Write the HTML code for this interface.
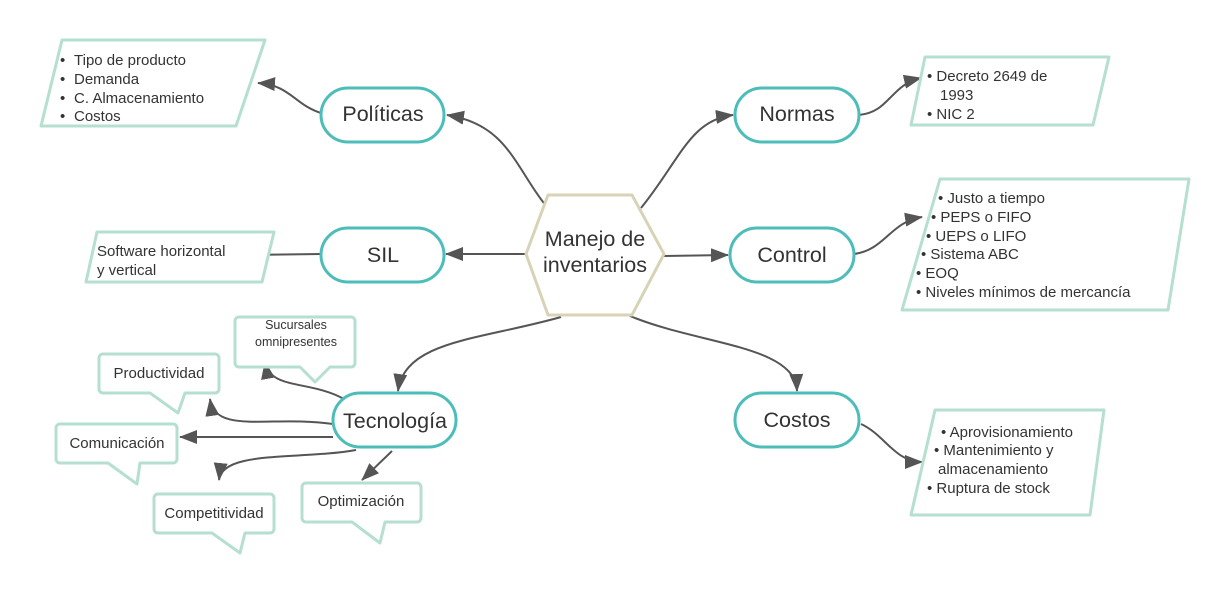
<!DOCTYPE html>
<html><head><meta charset="utf-8"><style>
html,body{margin:0;padding:0;background:#fff;}
svg{display:block;}
text{font-family:"Liberation Sans",sans-serif;fill:#333;}
</style></head><body>
<svg width="1230" height="596" viewBox="0 0 1230 596" xmlns="http://www.w3.org/2000/svg">
<defs>
<marker id="b" markerWidth="18" markerHeight="14" refX="17" refY="7" orient="auto" markerUnits="userSpaceOnUse">
<path d="M0,0 L18,7 L0,14 z" fill="#555"/></marker>
</defs>
<g fill="none" stroke="#555" stroke-width="2" marker-end="url(#b)">
<path d="M551,212 C515,170 510,125 447,115"/>
<path d="M321,113 C295,105 290,85 258,83"/>
<path d="M526,254 L446,254"/>
<path d="M321,254 L247,255"/>
<path d="M641,208 C680,160 690,120 733,115"/>
<path d="M859,115 C890,112 890,85 921,78"/>
<path d="M664,256 L728,255"/>
<path d="M854,254 C885,250 890,222 922,217"/>
<path d="M561,317 C480,340 405,340 398,391"/>
<path d="M630,316 C700,345 795,345 797,391"/>
<path d="M861,424 C885,435 895,462 922,462"/>
<path d="M344,399 C310,380 270,390 265,362"/>
<path d="M333,424 C270,415 215,435 210,399"/>
<path d="M333,437 L180,437"/>
<path d="M356,450 C300,460 222,450 219,480"/>
<path d="M392,451 L362,480"/>
</g>
<polygon points="526,254 548,195 632,195 664,254 632,315 548,315" fill="#fff" stroke="#d8d3b6" stroke-width="3" stroke-linejoin="round"/>
<text x="595" y="246" font-size="21.5" text-anchor="middle">Manejo de</text>
<text x="595" y="272" font-size="21.5" text-anchor="middle">inventarios</text>
<g fill="#fff" stroke="#4dbdb9" stroke-width="3">
<rect x="321" y="88" width="123" height="54" rx="27"/>
<rect x="321" y="228" width="123" height="54" rx="27"/>
<rect x="735" y="88" width="124" height="54" rx="27"/>
<rect x="730" y="228" width="124" height="54" rx="27"/>
<rect x="333" y="393" width="123" height="54" rx="27"/>
<rect x="735" y="393" width="124" height="54" rx="27"/>
</g>
<g font-size="21.5" text-anchor="middle">
<text x="383" y="121">Políticas</text>
<text x="383" y="262">SIL</text>
<text x="797" y="121">Normas</text>
<text x="792" y="262">Control</text>
<text x="395" y="428">Tecnología</text>
<text x="797" y="427">Costos</text>
</g>
<g fill="#fff" stroke="#b5dfcf" stroke-width="3" stroke-linejoin="round">
<polygon points="62,40 265,40 236,126 41,126"/>
<polygon points="97,232 274,232 262,282 86,282"/>
<polygon points="925,57 1109,57 1093,125 911,125"/>
<polygon points="940,179 1189,179 1168,310 902,310"/>
<polygon points="935,410 1104,410 1090,515 911,515"/>
<path d="M240,317 H351 a4,4 0 0 1 4,4 V363 a4,4 0 0 1 -4,4 H330 L315,382 L300,367 H239 a4,4 0 0 1 -4,-4 V321 a4,4 0 0 1 4,-4z"/>
<path d="M103,354 H215 a4,4 0 0 1 4,4 V389 a4,4 0 0 1 -4,4 H185 L178,413 L150,393 H103 a4,4 0 0 1 -4,-4 V358 a4,4 0 0 1 4,-4z"/>
<path d="M60,424 H173 a4,4 0 0 1 4,4 V459 a4,4 0 0 1 -4,4 H140 L137,484 L108,463 H60 a4,4 0 0 1 -4,-4 V428 a4,4 0 0 1 4,-4z"/>
<path d="M158,494 H270 a4,4 0 0 1 4,4 V529 a4,4 0 0 1 -4,4 H245 L240,553 L212,533 H158 a4,4 0 0 1 -4,-4 V498 a4,4 0 0 1 4,-4z"/>
<path d="M306,483 H417 a4,4 0 0 1 4,4 V518 a4,4 0 0 1 -4,4 H385 L380,543 L352,522 H306 a4,4 0 0 1 -4,-4 V487 a4,4 0 0 1 4,-4z"/>
</g>
<g font-size="15">
<text x="60" y="65">•</text><text x="74" y="65">Tipo de producto</text>
<text x="60" y="84">•</text><text x="74" y="84">Demanda</text>
<text x="60" y="103">•</text><text x="74" y="103">C. Almacenamiento</text>
<text x="60" y="121">•</text><text x="74" y="121">Costos</text>
<text x="97" y="256">Software horizontal</text>
<text x="97" y="275">y vertical</text>
<text x="927" y="81">• Decreto 2649 de</text>
<text x="940" y="100">1993</text>
<text x="927" y="119">• NIC 2</text>
<text x="938" y="203">• Justo a tiempo</text>
<text x="931" y="222">• PEPS o FIFO</text>
<text x="926" y="241">• UEPS o LIFO</text>
<text x="921" y="259">• Sistema ABC</text>
<text x="916" y="278">• EOQ</text>
<text x="916" y="297">• Niveles mínimos de mercancía</text>
<text x="941" y="437">• Aprovisionamiento</text>
<text x="934" y="455">• Mantenimiento y</text>
<text x="938" y="474">almacenamiento</text>
<text x="927" y="493">• Ruptura de stock</text>
</g>
<g font-size="15" text-anchor="middle">
<text x="296" y="329" font-size="12.5">Sucursales</text>
<text x="296" y="346" font-size="12.5">omnipresentes</text>
<text x="159" y="378">Productividad</text>
<text x="117" y="448">Comunicación</text>
<text x="214" y="518">Competitividad</text>
<text x="361" y="506">Optimización</text>
</g>
</svg>
</body></html>
